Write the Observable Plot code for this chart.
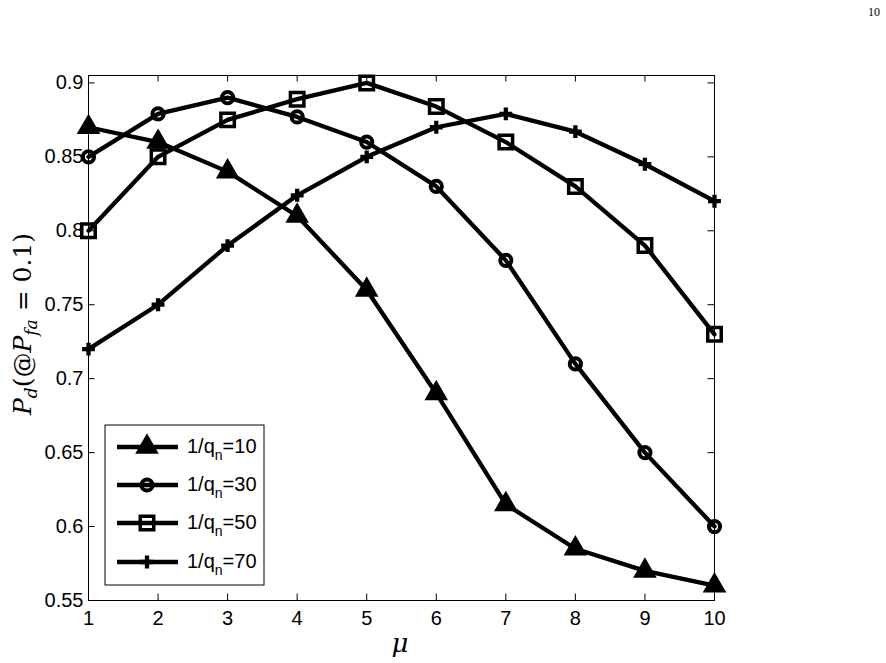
<!DOCTYPE html>
<html>
<head>
<meta charset="utf-8">
<script src="https://cdn.jsdelivr.net/npm/d3@7"></script>
<script src="https://cdn.jsdelivr.net/npm/@observablehq/plot@0.6"></script>
<style>
  html, body { margin: 0; padding: 0; background: #fff; }
  #chart { position: relative; width: 886px; height: 663px; }
  svg { display: block; }
</style>
</head>
<body>
<div id="chart"></div>
<script>
// ---- data ----
const mu = [1, 2, 3, 4, 5, 6, 7, 8, 9, 10];
const pd10 = [0.87, 0.86, 0.84, 0.81, 0.76, 0.69, 0.615, 0.585, 0.57, 0.56];
const pd30 = [0.85, 0.879, 0.89, 0.877, 0.86, 0.83, 0.78, 0.71, 0.65, 0.60];
const pd50 = [0.80, 0.85, 0.875, 0.889, 0.90, 0.884, 0.86, 0.83, 0.79, 0.73];
const pd70 = [0.72, 0.75, 0.79, 0.824, 0.85, 0.87, 0.879, 0.867, 0.845, 0.82];
const seriesNames = ["10", "30", "50", "70"];
const seriesValues = [pd10, pd30, pd50, pd70];
const xTicks = [1, 2, 3, 4, 5, 6, 7, 8, 9, 10];
const yTicks = [0.55, 0.6, 0.65, 0.7, 0.75, 0.8, 0.85, 0.9];

// long table
const table = [];
seriesNames.forEach((s, k) => mu.forEach((m, i) => table.push({series: s, mu: m, pd: seriesValues[k][i]})));

// marker styles per series
const markerStyle = {
  "10": {symbol: "triangle", r: 7.8, fill: "black", stroke: "black", strokeWidth: 1.5},
  "30": {symbol: "circle", r: 5.6, fill: "none", stroke: "black", strokeWidth: 4},
  "50": {symbol: "square", r: 7.6, fill: "none", stroke: "black", strokeWidth: 3.5},
  "70": {symbol: "cross", r: 5.4, fill: "black", stroke: "none", strokeWidth: 0}
};

const W = 886, H = 663;
const mL = 88, mR = 172, mT = 75, mB = 63;
const plotH = H - mT - mB, plotW = W - mL - mR;
const tickLen = 6.5;
const FONT = "'Liberation Sans', Arial, Helvetica, sans-serif";
const FS = 20;

const marks = [
  Plot.frame({stroke: "black", strokeWidth: 1}),
  // inward ticks
  Plot.tickX(xTicks, {x: d => d, stroke: "black", strokeWidth: 1, insetTop: plotH - tickLen}),
  Plot.tickX(xTicks, {x: d => d, stroke: "black", strokeWidth: 1, insetBottom: plotH - tickLen}),
  Plot.tickY(yTicks, {y: d => d, stroke: "black", strokeWidth: 1, insetRight: plotW - tickLen}),
  Plot.tickY(yTicks, {y: d => d, stroke: "black", strokeWidth: 1, insetLeft: plotW - tickLen}),
  Plot.axisX(xTicks, {anchor: "bottom", tickSize: 0, tickPadding: 10, fontSize: FS, label: null, tickFormat: d => String(d)}),
  Plot.axisY(yTicks, {anchor: "left", tickSize: 0, tickPadding: 5, fontSize: FS, label: null, tickFormat: d => String(+d.toFixed(2))})
];
seriesNames.forEach(s => {
  const data = table.filter(d => d.series === s);
  marks.push(Plot.line(data, {x: "mu", y: "pd", stroke: "black", strokeWidth: 4.3, strokeLinejoin: "miter"}));
  const st = markerStyle[s];
  marks.push(Plot.dot(data, {x: "mu", y: "pd", symbol: () => st.symbol, r: st.r, fill: st.fill, stroke: st.stroke, strokeWidth: st.strokeWidth}));
});

const chart = Plot.plot({
  width: W, height: H,
  marginLeft: mL, marginRight: mR, marginTop: mT, marginBottom: mB,
  style: {fontFamily: FONT, fontSize: FS + "px", color: "black", background: "white"},
  x: {domain: [1, 10], ticks: xTicks},
  y: {domain: [0.55, 0.905], ticks: yTicks},
  symbol: {type: "identity"},
  marks
});
document.getElementById("chart").appendChild(chart);

// ---- annotations: axis titles, page number, legend ----
const svg = d3.select(chart);

// y axis title
const yl = svg.append("text")
  .attr("transform", "translate(31,324) rotate(-90)")
  .attr("text-anchor", "middle")
  .attr("font-family", "'DejaVu Serif', 'Liberation Serif', serif")
  .attr("font-size", 25)
  .attr("fill", "black");
yl.append("tspan").attr("font-style", "italic").text("P");
yl.append("tspan").attr("font-style", "italic").attr("font-size", 17).attr("dy", 6).text("d");
yl.append("tspan").attr("dy", -6).text("(@");
yl.append("tspan").attr("font-style", "italic").text("P");
yl.append("tspan").attr("font-style", "italic").attr("font-size", 17).attr("dy", 6).text("fa");
yl.append("tspan").attr("dy", -6).text(" = 0.1)");

// x axis title
svg.append("text")
  .attr("x", 400).attr("y", 652)
  .attr("text-anchor", "middle")
  .attr("font-family", "'DejaVu Serif', 'Liberation Serif', serif")
  .attr("font-style", "italic")
  .attr("font-size", 26)
  .attr("fill", "black")
  .text("μ");

// page number
svg.append("text")
  .attr("x", 880).attr("y", 16)
  .attr("text-anchor", "end")
  .attr("font-family", "'Liberation Serif', 'DejaVu Serif', serif")
  .attr("font-size", 12)
  .attr("fill", "black")
  .text("10");

// legend
const lg = svg.append("g");
lg.append("rect").attr("x", 105).attr("y", 425).attr("width", 159).attr("height", 160)
  .attr("fill", "white").attr("stroke", "black").attr("stroke-width", 1);
const symMap = {triangle: d3.symbolTriangle, circle: d3.symbolCircle, square: d3.symbolSquare, cross: d3.symbolCross};
const rowY = [447, 485, 523, 562];
seriesNames.forEach((s, i) => {
  const y = rowY[i];
  const st = markerStyle[s];
  lg.append("line").attr("x1", 117).attr("x2", 178).attr("y1", y).attr("y2", y)
    .attr("stroke", "black").attr("stroke-width", 4.3);
  lg.append("path")
    .attr("transform", `translate(147,${y})`)
    .attr("d", d3.symbol(symMap[st.symbol], st.r * st.r * Math.PI)())
    .attr("fill", st.fill).attr("stroke", st.stroke).attr("stroke-width", st.strokeWidth);
  const t = lg.append("text").attr("x", 187).attr("y", y + 6)
    .attr("text-anchor", "start")
    .style("font-family", FONT)
    .style("font-size", FS + "px").attr("fill", "black");
  t.append("tspan").text("1/q");
  t.append("tspan").style("font-size", "14px").attr("dy", 7).text("n");
  t.append("tspan").attr("dy", -7).text("=" + s);
});
</script>
</body>
</html>
